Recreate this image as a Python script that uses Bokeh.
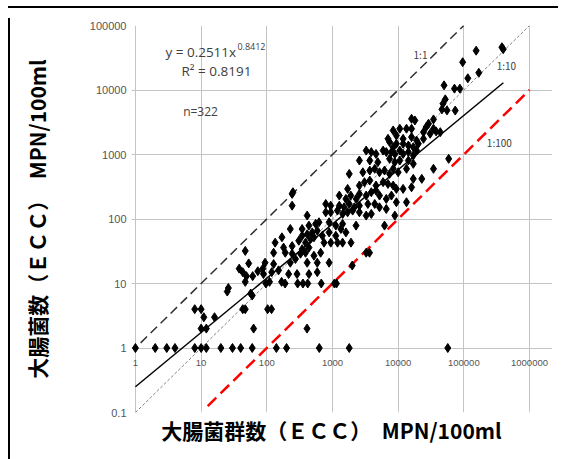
from bokeh.plotting import figure
from bokeh.models import FixedTicker, Label, Range1d, Div, Spacer
from bokeh.layouts import column, row
from bokeh.core.properties import value
from bokeh.embed import file_html
from bokeh.resources import INLINE

# ---------------- data ----------------
x_ticks = [1, 10, 100, 1000, 10000, 100000, 1000000]
x_tick_labels = ["1", "10", "100", "1000", "10000", "100000", "1000000"]
y_ticks = [0.1, 1, 10, 100, 1000, 10000, 100000]
y_tick_labels = ["0.1", "1", "10", "100", "1000", "10000", "100000"]

# points on the low rows (y = 1, 2, 3, 4)
low_x = [1, 2, 3, 4, 8, 10, 12, 20, 30, 40, 60, 140, 200, 630, 1800, 57000,
         10, 12, 63, 410, 11, 16, 8, 10, 43, 47, 103, 118]
low_y = [1] * 16 + [2, 2, 2, 2, 3, 3, 4, 4, 4, 4, 4, 4]

upper_x = [52200, 48100, 46400, 55400, 34500, 29000, 16000, 18000, 34500, 26700,
           24300, 30700, 37900, 43800, 16000, 13400, 10600, 8400, 9400, 11900,
           16000, 19100, 7000, 7400, 8400, 9400, 11900, 14300, 17000, 20300,
           24300, 3260, 3900, 4600, 5900, 6600, 7900, 8900, 10600, 11900,
           14300, 17000, 19100]
upper_y = [7160, 6140, 5010, 4830, 3500, 3000, 3580, 3370, 2510, 2660,
           2220, 2100, 2280, 2220, 2510, 2510, 2510, 2360, 1970, 1750,
           1860, 1650, 1750, 1560, 1300, 1470, 1470, 1380, 1300, 1470,
           1750, 1150, 1090, 1020, 1150, 1090, 1090, 1020, 1150, 1020,
           1090, 964, 1150]

mid_x = [2570, 3700, 4900, 7400, 8900, 10600, 14300, 17000, 58800, 34500,
         1800, 2900, 3700, 4400, 5200, 6200, 7400, 8400, 10000, 13400, 17000, 22900,
         2570, 3070, 3700, 4600, 5900, 7000, 8400, 9400, 11900, 16000,
         1700, 1270, 1600, 1900, 2300, 2570, 3260, 3900, 4600, 5200, 6600, 7900, 9400, 13400,
         243, 243, 790, 940, 1270, 1500, 1800, 2150, 2570, 3460, 4400, 5200, 6600, 8900, 6200,
         412, 790, 940, 1190, 1430, 1700, 2030, 2570, 3260, 3900]
mid_y = [807, 807, 760, 857, 760, 807, 807, 716, 857, 600,
         500, 530, 564, 600, 530, 564, 500, 600, 530, 600, 419, 419,
         330, 372, 394, 330, 372, 350, 330, 293, 293, 310,
         293, 231, 205, 231, 205, 245, 231, 260, 276, 231, 205, 231, 182, 182,
         245, 161, 171, 161, 161, 152, 171, 152, 161, 171, 171, 152, 143, 113, 79,
         113, 127, 127, 135, 120, 127, 135, 127, 113, 120]

lower_x = [228, 345, 438, 554, 623, 889, 1125, 1425, 2285,
           345, 412, 492, 587, 701, 889, 1125, 1343, 1603,
           307, 389, 464, 522, 744, 942, 1194, 1425, 1914,
           134, 170, 180, 243, 345, 438,
           127, 191, 243, 326, 389, 522, 661,
           94, 127, 228, 273, 412, 587, 889,
           89, 119, 151, 215, 289, 438, 587,
           3260, 3665]
lower_y = [70, 70, 79, 84, 89, 89, 79, 84, 79,
           55, 58, 62, 66, 55, 62, 55, 70, 62,
           46, 43, 49, 52, 43, 43, 43, 43, 43,
           43, 52, 36, 38, 34, 36,
           30, 30, 29, 29, 30, 27, 30,
           21, 20, 21, 24, 21, 21, 21,
           14, 15, 16, 14, 14, 14, 15,
           30, 30]

extra_x = [47, 53, 38, 43, 49, 61, 87, 73,
           25, 26, 57, 60, 47,
           97, 110, 168, 190,
           295, 355, 420, 675, 1070, 1150,
           2000, 250,
           74000, 50000, 72000, 87000, 96000, 115000, 154000, 169000, 380000, 398000]
extra_y = [32, 20.5, 17, 15, 13, 13, 17, 15.5,
           7.5, 8.5, 7, 6.5, 10.6,
           10, 10.6, 10.6, 10,
           10, 10, 10, 10, 10, 10,
           19, 260,
           4800, 11800, 10500, 10500, 27000, 15200, 40700, 18500, 46000, 43000]

ecc = low_x + upper_x + mid_x + lower_x + extra_x
ec = low_y + upper_y + mid_y + lower_y + extra_y

# reference lines
line_1to1_x = [1.2, 100000]
line_1to10_x = [1, 1000000]
line_1to100_x = [12.6, 1000000]
reg_a, reg_b = 0.2511, 0.8412
reg_x = [1, 400000]

# ---------------- figure ----------------
# x range slightly wider than the plotted area so the tick labels at 1 and
# 1000000 are not clipped; grid bounds mark the plotted area.
p = figure(width=537, height=448, x_axis_type="log", y_axis_type="log",
           x_range=Range1d(0.871, 2238721), y_range=Range1d(0.1, 100000),
           output_backend="svg", toolbar_location=None,
           min_border_left=116, min_border_right=0,
           min_border_top=12, min_border_bottom=49)
p.background_fill_color = "white"
p.border_fill_color = "white"
p.outline_line_color = None

grid_col = "#c4c4c4"
p.xgrid.ticker = FixedTicker(ticks=x_ticks)
p.ygrid.ticker = FixedTicker(ticks=y_ticks)
p.xgrid.bounds = (y_ticks[0], y_ticks[-1])
p.ygrid.bounds = (x_ticks[0], x_ticks[-1])
p.xgrid.grid_line_color = grid_col
p.ygrid.grid_line_color = grid_col
p.xgrid.grid_line_width = 1
p.ygrid.grid_line_width = 1

# y axis
p.yaxis.ticker = FixedTicker(ticks=y_ticks)
p.yaxis.major_label_overrides = {v: s for v, s in zip(y_ticks, y_tick_labels)}
p.yaxis.major_tick_line_color = None
p.yaxis.minor_tick_line_color = None
p.yaxis.major_tick_out = 0
p.yaxis.axis_line_color = None
p.yaxis.major_label_text_font = "Liberation Sans"
p.yaxis.major_label_text_font_size = "11px"
p.yaxis.major_label_text_color = "#555555"
p.yaxis.major_label_standoff = 5
p.yaxis.axis_label = "大腸菌数（ＥＣＣ）　MPN/100ml"
p.yaxis.axis_label_text_font = "Noto Sans CJK JP"
p.yaxis.axis_label_text_font_size = "21px"
p.yaxis.axis_label_text_font_style = "bold"
p.yaxis.axis_label_text_color = "black"
p.yaxis.axis_label_standoff = 35

# x axis (tick labels drawn inside, just under y = 1)
p.xaxis.ticker = FixedTicker(ticks=[])
p.xaxis.major_tick_line_color = None
p.xaxis.minor_tick_line_color = None
p.xaxis.major_tick_out = 0
p.xaxis.major_label_standoff = 0
p.xaxis.axis_line_color = None
p.xaxis.axis_label = "大腸菌群数（ＥＣＣ）　MPN/100ml　"
p.xaxis.axis_label_text_font = "Noto Sans CJK JP"
p.xaxis.axis_label_text_font_size = "21px"
p.xaxis.axis_label_text_font_style = "bold"
p.xaxis.axis_label_text_color = "black"
p.xaxis.axis_label_standoff = 2

for xv, lab in zip(x_ticks, x_tick_labels):
    p.add_layout(Label(x=xv, y=1, text=lab, text_align="center",
                       text_baseline="middle", y_offset=-15,
                       text_font="Liberation Sans",
                       text_font_size="9.5px", text_color="#555555"))

# reference lines
p.line(line_1to10_x, [v / 10 for v in line_1to10_x], line_color="#808080",
       line_width=1, line_dash="3 2")
p.line(line_1to1_x, line_1to1_x, line_color="#303030", line_width=1.5,
       line_dash="9 5")
p.line(line_1to100_x, [v / 100 for v in line_1to100_x], line_color="#ff0000",
       line_width=2.5, line_dash="12 6")
p.line(reg_x, [reg_a * v ** reg_b for v in reg_x], line_color="black",
       line_width=1.5)

# points
p.scatter(ecc, ec, marker="diamond", size=9, color="black")

# annotations
p.text(x=[2.86], y=[39000], text=["y = 0.2511x"], text_font=value("Open Sans"),
       text_font_size="13.5px", text_color="#404040", text_baseline="middle")
p.text(x=[2.86], y=[39000], text=["0.8412"], text_font=value("Open Sans"),
       text_font_size="9px", text_color="#404040", text_baseline="middle",
       x_offset=72, y_offset=-5)
p.text(x=[17.1], y=[19600], text=["R² = 0.8191"], text_font=value("Open Sans"),
       text_font_size="13.5px", text_color="#404040", text_baseline="middle",
       text_align="center")
p.text(x=[9.8], y=[4570], text=["n=322"], text_font=value("Open Sans"),
       text_font_size="12px", text_color="#404040", text_baseline="middle",
       text_align="center")

p.text(x=[21900, 445000, 347000], y=[36000, 23600, 1560],
       text=["1:1", "1:10", "1:100"], text_font=value("Noto Sans CJK JP"),
       text_font_size="10px", text_color="#404040", text_align="center",
       text_baseline="middle")

# outer black frame: top and left edges, as thin black blocks around the figure
top_edge = Div(text="", width=550, height=2, styles={"background-color": "black"})
left_edge = Div(text="", width=2, height=448, styles={"background-color": "black"})
layout = column(Spacer(width=553, height=1),
                row(Spacer(width=3, height=450),
                    column(top_edge, row(left_edge, p, spacing=0), spacing=0),
                    spacing=0),
                spacing=0)

open("out.html", "w").write(file_html(layout, INLINE))
